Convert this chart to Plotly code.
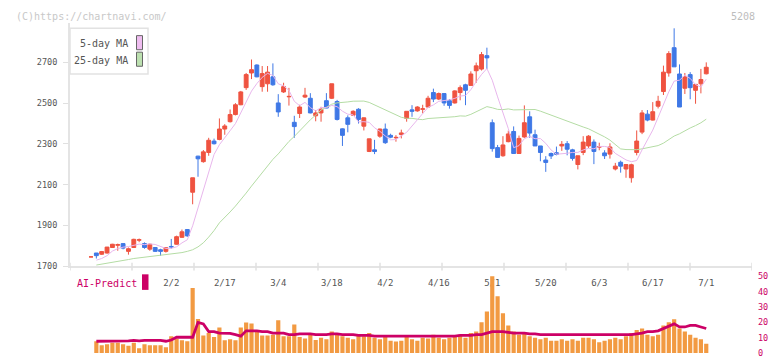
import plotly.graph_objects as go
import pandas as pd

# ---------------- data ----------------
opens = [1746,1765,1759,1765,1792,1803,1811,1773,1792,1828,1811,1784,1792,1781,1773,1797,1808,1842,1880,2063,
         2240,2213,2258,2314,2322,2373,2409,2444,2492,2576,2648,2687,2581,2595,2629,2501,2555,2531,2406,2449,
         2530,2524,2438,2452,2512,2524,2508,2374,2428,2441,2470,2387,2263,2271,2338,2373,2342,2330,2346,2425,
         2467,2462,2470,2481,2552,2520,2547,2512,2501,2552,2590,2587,2659,2667,2733,2404,2282,2242,2311,2361,
         2253,2334,2433,2345,2290,2221,2253,2257,2290,2301,2271,2199,2258,2290,2309,2284,2256,2250,2177,2210,
         2177,2134,2258,2358,2446,2417,2485,2557,2648,2772,2643,2573,2640,2563,2595,2644]
highs = [1746,1765,1775,1795,1810,1811,1813,1792,1835,1836,1817,1811,1794,1786,1794,1834,1850,1880,1882,2134,
         2242,2270,2330,2326,2425,2397,2469,2500,2560,2648,2714,2690,2682,2682,2695,2544,2600,2575,2438,2492,
         2575,2549,2466,2482,2549,2595,2516,2376,2440,2465,2475,2430,2325,2320,2375,2400,2350,2343,2370,2460,
         2490,2485,2492,2536,2571,2552,2549,2520,2563,2587,2595,2656,2699,2751,2772,2420,2295,2338,2365,2386,
         2341,2489,2460,2370,2290,2240,2258,2287,2314,2314,2276,2242,2338,2343,2322,2306,2269,2303,2207,2218,
         2199,2203,2366,2466,2466,2505,2536,2684,2755,2867,2690,2648,2652,2592,2668,2700]
lows = [1746,1738,1756,1762,1790,1776,1783,1757,1790,1818,1786,1776,1770,1751,1767,1786,1806,1839,1845,2004,
        2139,2208,2242,2297,2318,2345,2405,2440,2490,2565,2618,2627,2556,2556,2585,2433,2550,2488,2330,2427,
        2525,2450,2411,2409,2475,2520,2415,2290,2357,2438,2400,2366,2260,2250,2330,2300,2328,2311,2327,2409,
        2433,2458,2450,2480,2505,2515,2487,2473,2498,2514,2490,2585,2600,2660,2667,2262,2234,2237,2308,2253,
        2253,2330,2330,2290,2215,2163,2226,2244,2266,2244,2218,2175,2245,2280,2201,2269,2226,2228,2170,2159,
        2134,2110,2244,2348,2411,2415,2474,2540,2630,2678,2481,2545,2519,2497,2548,2641]
closes = [1746,1752,1772,1794,1808,1806,1789,1786,1832,1830,1792,1808,1773,1773,1791,1795,1845,1869,1849,2134,
          2227,2261,2318,2301,2373,2388,2444,2492,2555,2640,2664,2629,2645,2652,2590,2457,2581,2533,2385,2481,
          2539,2452,2452,2470,2476,2595,2420,2342,2396,2460,2420,2428,2325,2263,2373,2306,2333,2332,2354,2460,
          2460,2481,2472,2524,2520,2547,2501,2489,2560,2576,2563,2643,2683,2738,2722,2277,2234,2295,2349,2253,
          2327,2404,2353,2290,2258,2209,2241,2249,2298,2274,2229,2242,2309,2338,2263,2287,2242,2285,2191,2191,
          2199,2198,2314,2452,2417,2458,2509,2652,2743,2678,2481,2629,2576,2592,2616,2676]

# moving-average values at the start of the window (earlier history not shown)
ma5_head = [None, 1730, 1738, 1752]
ma25_head = [None, 1706, 1710, 1714, 1719, 1724, 1729, 1733, 1738, 1741, 1745, 1748, 1752, 1756,
             1759, 1762, 1764, 1767, 1773, 1781, 1795, 1815, 1843, 1875]

volume = [None, 7.7, 5.1, 5.8, 6.8, 6.8, 5.8, 4.7, 6.8, 3.2, 5.8, 5.1, 5.1, 5.1, 3.8, 10.9, 9.4, 8.3, 7.7, 42.3,
          22.2, 11.5, 13.0, 10.5, 16.7, 8.3, 9.0, 8.3, 16.7, 19.9, 19.2, 13.7, 11.5, 11.5, 12.0, 21.4, 10.9, 10.9, 18.6, 10.5,
          9.5, 12.0, 8.5, 10.0, 9.0, 14.0, 12.0, 11.0, 10.0, 9.0, 12.0, 11.0, 13.0, 10.0, 9.0, 11.0, 8.0, 7.5, 8.0, 11.0,
          9.0, 8.0, 10.0, 9.5, 12.0, 10.0, 9.0, 10.0, 11.0, 12.0, 10.0, 13.0, 14.0, 20.0, 27.0, 52.0, 37.0, 26.0, 18.0, 14.0,
          12.0, 13.0, 11.0, 10.0, 9.0, 10.0, 8.0, 8.0, 9.0, 8.0, 9.0, 8.0, 10.0, 10.0, 9.0, 7.0, 8.0, 9.0, 10.0, 9.0,
          11.0, 13.0, 15.0, 16.0, 12.0, 11.0, 12.0, 18.0, 20.0, 22.0, 16.0, 14.0, 12.0, 10.0, 9.0, 6.0]
ai_predict = [None, 7.7, 7.7, 7.7, 7.7, 7.7, 7.7, 8.0, 8.3, 8.0, 8.3, 8.3, 8.0, 8.3, 7.7, 8.5, 10.3, 10.3, 10.3, 10.3,
              20.0, 19.0, 14.0, 14.0, 13.0, 12.8, 12.8, 12.0, 11.0, 14.5, 14.5, 14.5, 14.0, 14.0, 13.0, 13.0, 13.0, 12.0, 12.0, 12.5,
              12.5, 12.5, 12.0, 12.0, 12.0, 12.5, 12.5, 12.0, 12.0, 12.0, 11.5, 11.5, 11.5, 11.0, 11.0, 11.0, 11.0, 11.0, 11.0, 11.0,
              11.0, 11.0, 11.0, 11.0, 11.0, 11.0, 11.0, 11.0, 11.0, 11.5, 11.5, 11.5, 12.0, 12.0, 13.0, 14.0, 14.0, 14.0, 13.5, 13.0,
              13.0, 13.0, 12.5, 12.5, 12.0, 12.0, 12.0, 12.0, 12.0, 12.0, 12.0, 12.0, 12.0, 12.0, 12.0, 12.0, 12.0, 12.0, 12.0, 12.0,
              12.0, 12.0, 12.5, 13.0, 14.0, 14.0, 14.5, 16.0, 18.0, 19.0, 17.0, 17.0, 18.0, 18.0, 17.0, 16.0]

tick_pos = [15, 25, 35, 45, 55, 65, 75, 85, 95, 105, 115]
tick_text = ["2/2", "2/17", "3/4", "3/18", "4/2", "4/16", "5/1", "5/20", "6/3", "6/17", "7/1"]
price_ticks = [1700, 1900, 2100, 2300, 2500, 2700]
vol_ticks = [0, 10, 20, 30, 40, 50]

# ---------------- derived ----------------
idx = list(range(len(closes)))
cs = pd.Series(closes, dtype=float)
ma5 = cs.rolling(5).mean().tolist()
ma25 = cs.rolling(25).mean().tolist()
for i, v in enumerate(ma5_head):
    ma5[i] = v
for i, v in enumerate(ma25_head):
    ma25[i] = v

W, H = 772, 361
XL, XR = 70, 752          # plot area pixels
YT, YB = 18, 268.7        # main panel pixel rows
px_per_day = 5.35
x0_px = 91
xr = [(XL - x0_px) / px_per_day, (XR - x0_px) / px_per_day]
p_per_px = 1 / 0.2097
yr = [1700, 1700 + (YB - YT) * p_per_px]

RED = "#ef5340"
BLUE = "#3f78e6"
MAG = "#cc0066"

fig = go.Figure()
fig.add_trace(go.Candlestick(
    x=idx, open=opens, high=highs, low=lows, close=closes,
    increasing=dict(line=dict(color=RED, width=1), fillcolor=RED),
    decreasing=dict(line=dict(color=BLUE, width=1), fillcolor=BLUE),
    whiskerwidth=0, showlegend=False, hoverinfo="skip", xaxis="x", yaxis="y"))
fig.add_trace(go.Scatter(x=idx, y=ma25, mode="lines", line=dict(color="#b4dca4", width=1),
                         showlegend=False, hoverinfo="skip", xaxis="x", yaxis="y"))
fig.add_trace(go.Scatter(x=idx, y=ma5, mode="lines", line=dict(color="#e8b6ec", width=1),
                         showlegend=False, hoverinfo="skip", xaxis="x", yaxis="y"))

fig.add_trace(go.Bar(x=idx, y=volume, marker=dict(color="#f29a42", line=dict(width=0)),
                     showlegend=False, hoverinfo="skip", xaxis="x2", yaxis="y2"))
fig.add_trace(go.Scatter(x=idx, y=ai_predict, mode="lines", line=dict(color=MAG, width=2.8),
                         showlegend=False, hoverinfo="skip", xaxis="x2", yaxis="y2"))

def fy(py):
    return (H - py) / H

def fx(px):
    return px / W

fig.update_layout(
    width=W, height=H, margin=dict(l=0, r=0, t=0, b=0),
    paper_bgcolor="white", plot_bgcolor="white",
    bargap=0.22, boxgap=0.28, boxgroupgap=0,
    xaxis=dict(domain=[fx(XL), fx(XR)], range=xr, showgrid=False, zeroline=False,
               showline=True, linecolor="#e4e4e4", linewidth=2,
               tickvals=tick_pos, ticktext=tick_text, ticks="",
               tickfont=dict(family="DejaVu Sans Mono", size=9, color="#555"),
               ticklabelstandoff=7, rangeslider=dict(visible=False), anchor="y"),
    yaxis=dict(domain=[fy(YB), fy(YT)], range=yr, showgrid=False, zeroline=False,
               showline=True, linecolor="#e4e4e4", linewidth=2,
               tickvals=price_ticks, ticks="outside", ticklen=5, tickcolor="#e0e0e0",
               tickfont=dict(family="DejaVu Sans Mono", size=8.5, color="#555"),
               ticklabelstandoff=4, anchor="x"),
    xaxis2=dict(domain=[fx(XL), fx(XR)], range=xr, visible=False, anchor="y2"),
    yaxis2=dict(domain=[fy(358), fy(279)], range=[0, 50], side="right", anchor="x2",
                showgrid=False, zeroline=False, showline=False, ticks="",
                tickvals=vol_ticks,
                tickfont=dict(family="DejaVu Sans Mono", size=8.5, color=MAG),
                ticklabelstandoff=5),
)

# crossing x-axis tick marks (11 equal divisions of the plot width)
shapes = []
for k in range(12):
    xv = xr[0] + (xr[1] - xr[0]) * k / 11
    shapes.append(dict(type="line", xref="x", yref="paper", x0=xv, x1=xv,
                       y0=fy(273), y1=fy(265), line=dict(color="#e0e0e0", width=1.5)))
# legend box
shapes.append(dict(type="rect", xref="paper", yref="paper", x0=fx(70), x1=fx(148), y0=fy(71), y1=fy(24),
                   fillcolor="white", line=dict(color="#e2e2e2", width=1.5), layer="above"))
shapes.append(dict(type="rect", xref="paper", yref="paper", x0=fx(136.5), x1=fx(142.5), y0=fy(46), y1=fy(31.5),
                   fillcolor="#efbdf0", line=dict(color="#666", width=1), layer="above"))
shapes.append(dict(type="rect", xref="paper", yref="paper", x0=fx(136.5), x1=fx(142.5), y0=fy(63), y1=fy(48.5),
                   fillcolor="#bce0b0", line=dict(color="#666", width=1), layer="above"))
# AI-Predict swatch
shapes.append(dict(type="rect", xref="paper", yref="paper", x0=fx(142), x1=fx(148.5), y0=fy(293), y1=fy(277),
                   fillcolor=MAG, line=dict(width=0)))
fig.update_layout(shapes=shapes)

ann = [
    dict(text="(C)https://chartnavi.com/", x=fx(14), y=fy(12), xanchor="left", yanchor="middle",
         font=dict(family="DejaVu Sans Mono", size=10, color="#c8c8c8")),
    dict(text="5208", x=fx(757), y=fy(12), xanchor="right", yanchor="middle",
         font=dict(family="DejaVu Sans Mono", size=10, color="#bdbdbd")),
    dict(text="5-day MA", x=fx(130), y=fy(40), xanchor="right", yanchor="middle",
         font=dict(family="DejaVu Sans Mono", size=10, color="#555")),
    dict(text="25-day MA", x=fx(130), y=fy(57), xanchor="right", yanchor="middle",
         font=dict(family="DejaVu Sans Mono", size=10, color="#555")),
    dict(text="AI-Predict", x=fx(75), y=fy(286), xanchor="left", yanchor="middle",
         font=dict(family="DejaVu Sans Mono", size=10, color=MAG)),
]
for a in ann:
    a.update(xref="paper", yref="paper", showarrow=False)
fig.update_layout(annotations=ann)

fig.write_html("out.html")
